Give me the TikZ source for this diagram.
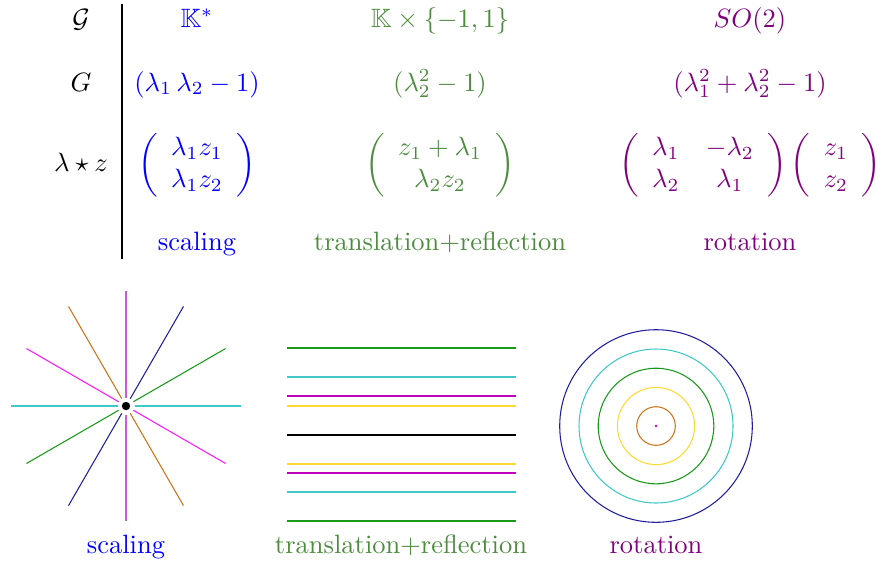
\documentclass[tikz,border=0pt]{standalone}
\usepackage{amsmath,amssymb}
\usetikzlibrary{calc}
\definecolor{cblue}{rgb}{0,0,1}
\definecolor{cgreen}{rgb}{0.3,0.55,0.24}
\definecolor{cpurple}{rgb}{0.5,0,0.5}
\definecolor{lorchid}{rgb}{0.8,0.35,0.85}
\definecolor{lpink}{rgb}{1,0.1,1}
\definecolor{lgreen}{rgb}{0.1,0.6,0.1}
\definecolor{lnavy}{rgb}{0.12,0.12,0.62}
\definecolor{lorange}{rgb}{0.8,0.45,0.1}
\definecolor{lcyan}{rgb}{0.25,0.78,0.78}
\definecolor{lmag}{rgb}{0.75,0,0.75}
\definecolor{lyellow}{rgb}{1,0.85,0.2}
\begin{document}
\begin{tikzpicture}[x=0.3774pt,y=-0.3774pt,
  lbl/.style={anchor=base,inner sep=0pt},
  thin line/.style={line width=0.4pt}]
\useasboundingbox (0,0) rectangle (881,564);
% table
\draw[line width=0.4pt] (122,4) -- (122,259);
\node[lbl] (hG) at (81,27.5) {$\mathcal{G}$};
\node[lbl] (hPoly) at (81,91) {$G$};
\node[lbl] (hAct) at (81,171.5) {$\lambda\star z$};
% scaling column
\node[lbl,text=cblue] (s1) at (197,27.5) {$\mathbb{K}^*$};
\node[lbl,text=cblue] (s2) at (197,91) {$(\lambda_1\,\lambda_2-1)$};
\node[lbl,text=cblue] (s3) at (197,171.5) {$\left(\begin{array}{c}\lambda_1 z_1\\ \lambda_1 z_2\end{array}\right)$};
\node[lbl,text=cblue] (s4) at (197,250) {scaling};
% translation column
\node[lbl,text=cgreen] (t1) at (440,27.5) {$\mathbb{K}\times\{-1,1\}$};
\node[lbl,text=cgreen] (t2) at (440,91) {$(\lambda_2^2-1)$};
\node[lbl,text=cgreen] (t3) at (440,171.5) {$\left(\begin{array}{c}z_1+\lambda_1\\ \lambda_2 z_2\end{array}\right)$};
\node[lbl,text=cgreen] (t4) at (440,250) {translation+reflection};
% rotation column
\node[lbl,text=cpurple] (r1) at (750,27.5) {$SO(2)$};
\node[lbl,text=cpurple] (r2) at (750,91) {$(\lambda_1^2+\lambda_2^2-1)$};
\node[lbl,text=cpurple] (r3) at (750,171.5) {$\left(\begin{array}{cc}\lambda_1 & -\lambda_2\\ \lambda_2 & \lambda_1\end{array}\right)\left(\begin{array}{c}z_1\\ z_2\end{array}\right)$};
\node[lbl,text=cpurple] (r4) at (750,250) {rotation};
% scaling star
\coordinate (sc) at (126,406);
\foreach \a/\c in {0/lcyan,180/lcyan,90/lorchid,270/lorchid,30/lpink,210/lpink,-30/lgreen,150/lgreen,60/lorange,240/lorange,120/lnavy,300/lnavy}{
  \draw[thin line,\c] ($(sc)+(\a:8.5)$) -- ($(sc)+(\a:115)$);
}
\fill[black] (sc) circle (4.2);
% translation lines
\foreach \yy/\c in {348/lgreen,377/lcyan,396/lmag,406/lyellow,464/lyellow,473/lmag,492/lcyan,521/lgreen}{
  \draw[thin line,\c] (287,\yy) -- (516,\yy);
}
\draw[line width=0.85pt,black] (287,435) -- (516,435);
% rotation circles
\coordinate (rc) at (656,426);
\foreach \r/\c in {19.3/lorange,38.6/lyellow,57.8/lgreen,77/lcyan,96.3/lnavy}{
  \draw[thin line,\c] (rc) circle (\r);
}
\fill[lmag] (rc) circle (1.3);
% bottom labels
\node[lbl,text=cblue] (b1) at (126,553) {scaling};
\node[lbl,text=cgreen] (b2) at (401,553) {translation+reflection};
\node[lbl,text=cpurple] (b3) at (656,553) {rotation};
\end{tikzpicture}
\end{document}
